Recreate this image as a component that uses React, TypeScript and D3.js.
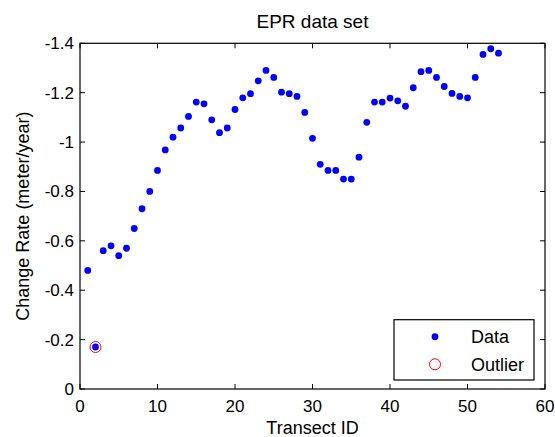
import React from "react";
import * as d3 from "d3";

const transectIds: number[] = [
  1, 2, 3, 4, 5, 6, 7, 8, 9, 10, 11, 12, 13, 14, 15, 16, 17, 18, 19, 20, 21, 22, 23, 24, 25, 26, 27,
  28, 29, 30, 31, 32, 33, 34, 35, 36, 37, 38, 39, 40, 41, 42, 43, 44, 45, 46, 47, 48, 49, 50, 51, 52, 53, 54,
];
const changeRates: number[] = [
  -0.48, -0.17, -0.56, -0.58, -0.54, -0.57, -0.65, -0.73, -0.8, -0.885, -0.968, -1.02, -1.057, -1.104,
  -1.162, -1.155, -1.09, -1.038, -1.057, -1.132, -1.179, -1.196, -1.248, -1.29, -1.262, -1.202, -1.196,
  -1.185, -1.12, -1.015, -0.91, -0.885, -0.885, -0.85, -0.85, -0.939, -1.08, -1.162, -1.162, -1.178,
  -1.167, -1.145, -1.22, -1.285, -1.29, -1.262, -1.225, -1.197, -1.185, -1.179, -1.262, -1.355, -1.378, -1.36,
];
const outlierIds: number[] = [2];
const outlierRates: number[] = [-0.17];

const xTicks: number[] = [0, 10, 20, 30, 40, 50, 60];
const xTickLabels: string[] = ["0", "10", "20", "30", "40", "50", "60"];
const yTicks: number[] = [0, -0.2, -0.4, -0.6, -0.8, -1, -1.2, -1.4];
const yTickLabels: string[] = ["0", "-0.2", "-0.4", "-0.6", "-0.8", "-1", "-1.2", "-1.4"];

const titleText = "EPR data set";
const xLabelText = "Transect ID";
const yLabelText = "Change Rate (meter/year)";
const legendLabels: string[] = ["Data", "Outlier"];

const W = 555;
const H = 437;
const left = 80;
const right = 545;
const top = 43.3;
const bottom = 389;
const font = "'Liberation Sans', Arial, Helvetica, sans-serif";
const tickLen = 5;

export default function App() {
  const x = d3.scaleLinear().domain([0, 60]).range([left, right]);
  const y = d3.scaleLinear().domain([0, -1.4]).range([bottom, top]);

  const legX = 394;
  const legY = 319.7;
  const legW = 140;
  const legH = 60.3;

  return (
    <svg
      width={W}
      height={H}
      viewBox={`0 0 ${W} ${H}`}
      style={{ position: "absolute", left: 0, top: 0, background: "#fff" }}
    >
      <rect x={0} y={0} width={W} height={H} fill="#fff" />
      {xTicks.map((t, i) => (
        <g key={"xt" + i}>
          <line x1={x(t)} x2={x(t)} y1={bottom} y2={bottom - tickLen} stroke="#000" strokeWidth={1} />
          <line x1={x(t)} x2={x(t)} y1={top} y2={top + tickLen} stroke="#000" strokeWidth={1} />
          <text x={x(t)} y={411.5} textAnchor="middle" fontFamily={font} fontSize={17} fill="#000">
            {xTickLabels[i]}
          </text>
        </g>
      ))}
      {yTicks.map((t, i) => (
        <g key={"yt" + i}>
          <line x1={left} x2={left + tickLen} y1={y(t)} y2={y(t)} stroke="#000" strokeWidth={1} />
          <line x1={right} x2={right - tickLen} y1={y(t)} y2={y(t)} stroke="#000" strokeWidth={1} />
          <text x={74} y={y(t) + 6} textAnchor="end" fontFamily={font} fontSize={17} fill="#000">
            {yTickLabels[i]}
          </text>
        </g>
      ))}
      <rect
        x={left}
        y={top}
        width={right - left}
        height={bottom - top}
        fill="none"
        stroke="#000"
        strokeWidth={1.2}
      />
      {transectIds.map((id, i) => (
        <circle key={"d" + i} cx={x(id)} cy={y(changeRates[i])} r={3.4} fill="#0000ff" />
      ))}
      {outlierIds.map((id, i) => (
        <circle
          key={"o" + i}
          cx={x(id)}
          cy={y(outlierRates[i])}
          r={5.5}
          fill="none"
          stroke="#ff0000"
          strokeWidth={1}
        />
      ))}
      <text x={(left + right) / 2} y={28} textAnchor="middle" fontFamily={font} fontSize={19} fill="#000">
        {titleText}
      </text>
      <text x={(left + right) / 2} y={434} textAnchor="middle" fontFamily={font} fontSize={18} fill="#000">
        {xLabelText}
      </text>
      <text
        transform={`translate(28.5,${(top + bottom) / 2}) rotate(-90)`}
        textAnchor="middle"
        fontFamily={font}
        fontSize={18}
        fill="#000"
      >
        {yLabelText}
      </text>
      <rect x={legX} y={legY} width={legW} height={legH} fill="#fff" stroke="#000" strokeWidth={1.2} />
      <circle cx={435} cy={336.7} r={3.4} fill="#0000ff" />
      <circle cx={435} cy={364.3} r={5.5} fill="none" stroke="#ff0000" strokeWidth={1} />
      <text x={471} y={343} fontFamily={font} fontSize={18} fill="#000">
        {legendLabels[0]}
      </text>
      <text x={471} y={370.5} fontFamily={font} fontSize={18} fill="#000">
        {legendLabels[1]}
      </text>
    </svg>
  );
}
